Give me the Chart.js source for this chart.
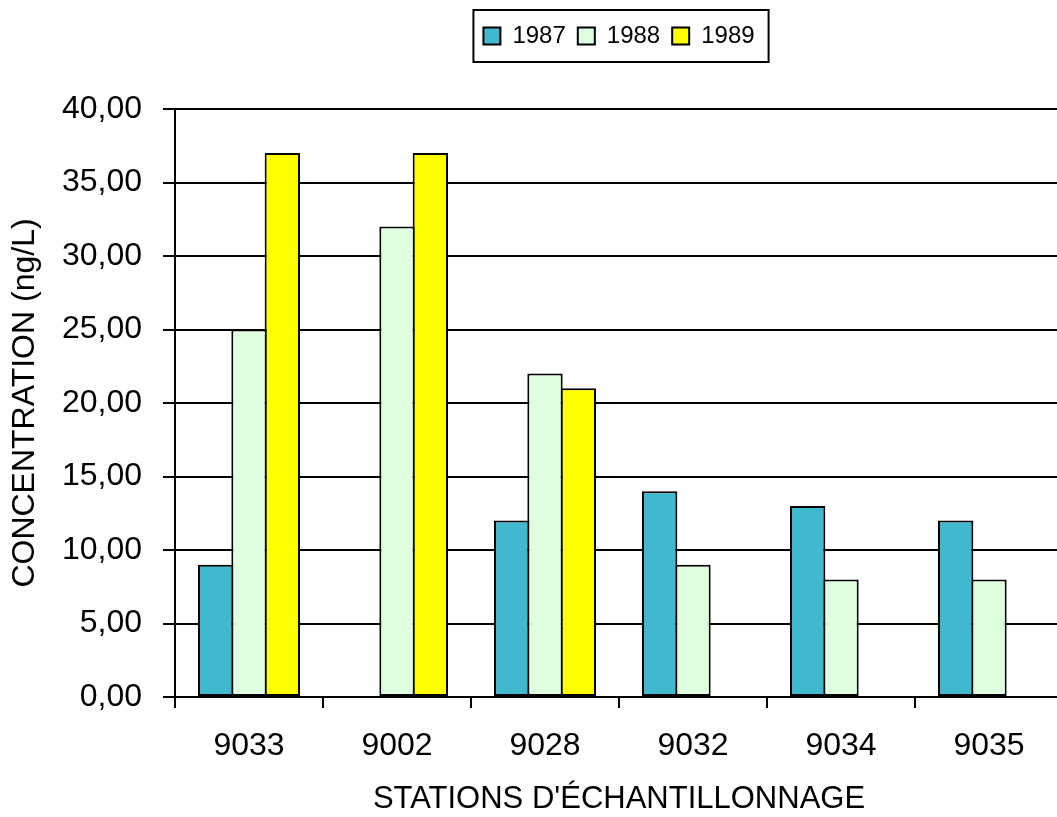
<!DOCTYPE html>
<html>
<head>
<meta charset="utf-8">
<title>Concentration par station</title>
<script src="https://cdn.jsdelivr.net/npm/chart.js@4.4.1/dist/chart.umd.min.js"></script>
<style>
  html, body { margin: 0; padding: 0; background: #ffffff; overflow: hidden; }
  #wrap { position: relative; width: 1066px; height: 817px; }
</style>
</head>
<body>
<div id="wrap"><canvas id="chart"></canvas></div>
<script>
// Stations and yearly concentrations (ng/L); null = no sample that year
const stations = ['9033', '9002', '9028', '9032', '9034', '9035'];
const years = ['1987', '1988', '1989'];
const values1987 = [9, null, 12, 14, 13, 12];
const values1988 = [25, 32, 22, 9, 8, 8];
const values1989 = [37, 37, 21, null, null, null];
const yearColors = ['#40B9CF', '#E0FFE0', '#FFFF00'];
const yMin = 0, yMax = 40, yStep = 5;

// French decimal format: 40,00
const formatTick = v => v.toFixed(2).replace('.', ',');

const FONT = 'Liberation Sans, Arial, Helvetica, sans-serif';

// Extra room under the legend, above the plot
const legendSpacing = {
  id: 'legendSpacing',
  beforeInit(chart) {
    const fit = chart.legend.fit;
    chart.legend.fit = function () {
      fit.bind(chart.legend)();
      this.height += 51;
    };
  }
};

// Framed legend box
const legendFrame = {
  id: 'legendFrame',
  afterDraw(chart) {
    const boxes = chart.legend && chart.legend.legendHitBoxes;
    if (!boxes || !boxes.length) return;
    const first = boxes[0], last = boxes[boxes.length - 1];
    const cy = first.top + first.height / 2;
    const ctx = chart.ctx;
    ctx.save();
    ctx.strokeStyle = '#000';
    ctx.lineWidth = 2;
    ctx.strokeRect(first.left - 10, cy - 26, last.left + last.width + 14 - (first.left - 10), 52);
    ctx.restore();
  }
};

const seriesValues = [values1987, values1988, values1989];

new Chart(document.getElementById('chart'), {
  type: 'bar',
  data: {
    labels: stations,
    datasets: years.map((y, i) => ({
      label: y,
      data: seriesValues[i],
      backgroundColor: yearColors[i],
      borderColor: '#000',
      borderWidth: 2,
      borderSkipped: false,
      // slightly wider than the slot so neighbouring bars share one outline
      barPercentage: 1.06,
      categoryPercentage: 0.676
    }))
  },
  options: {
    responsive: true,
    maintainAspectRatio: false,
    animation: false,
    layout: { padding: { top: 12, right: 3, bottom: 0, left: 0 } },
    plugins: {
      legend: {
        position: 'top',
        fullSize: false,
        labels: {
          color: '#000',
          font: { family: FONT, size: 24 },
          boxWidth: 17,
          boxHeight: 17,
          padding: 12
        }
      },
      tooltip: { enabled: false }
    },
    scales: {
      x: {
        afterFit(scale) { scale.height = 120; },
        grid: {
          display: true,
          offset: true,
          drawOnChartArea: false,
          drawTicks: true,
          tickLength: 11,
          color: '#000',
          lineWidth: 2
        },
        border: { display: true, color: '#000', width: 2 },
        ticks: {
          color: '#000',
          font: { family: FONT, size: 32 },
          padding: 19,
          maxRotation: 0
        },
        title: {
          display: true,
          text: "STATIONS D'ÉCHANTILLONNAGE",
          color: '#000',
          font: { family: FONT, size: 31, lineHeight: 1 },
          padding: { top: 18, bottom: 2 }
        }
      },
      y: {
        min: yMin,
        max: yMax,
        afterFit(scale) { scale.width = 175; },
        grid: {
          color: '#000',
          lineWidth: 2,
          drawTicks: true,
          tickLength: 12
        },
        border: { display: true, color: '#000', width: 2 },
        ticks: {
          stepSize: yStep,
          color: '#000',
          font: { family: FONT, size: 32 },
          padding: 21,
          callback: v => formatTick(v)
        },
        title: {
          display: true,
          text: 'CONCENTRATION (ng/L)',
          color: '#000',
          font: { family: FONT, size: 32 },
          padding: { top: 6, bottom: 19 }
        }
      }
    }
  },
  plugins: [legendSpacing, legendFrame]
});
</script>
</body>
</html>
